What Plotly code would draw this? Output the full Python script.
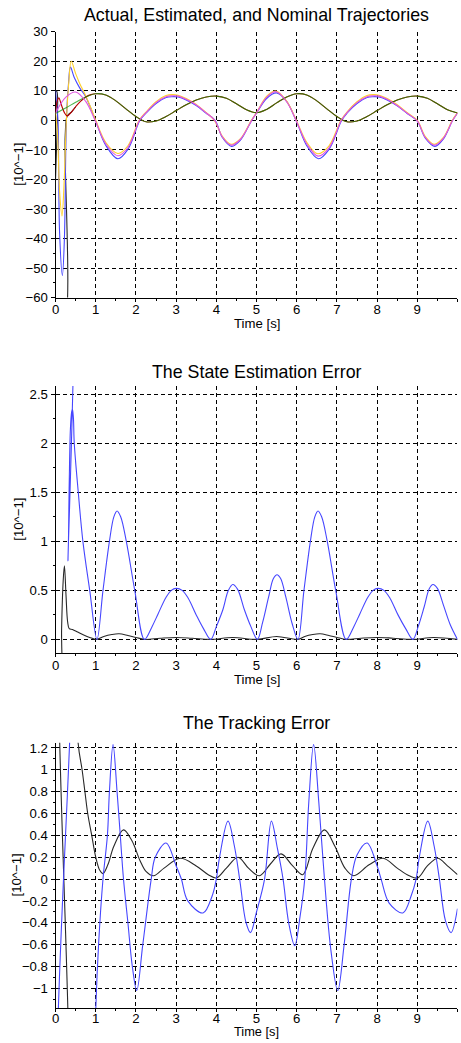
import plotly.graph_objects as go

W, H = 461, 1043

# Page-to-picture mapping measured from earlier renders (the page is slightly shrunk and
# offset when photographed); positions below are picture pixels converted back to paper.
SX, BX = 0.992, 2.9
SY, BY = 0.985, 6.3

def px(x):
    return ((x - BX) / SX) / W

def py(y):
    return 1 - ((y - BY) / SY) / H

# ---------------- Chart 1: Actual, Estimated, and Nominal Trajectories ----------------
t_nom1 = [0, 0.25, 0.5, 0.75, 1.0, 1.25, 1.55, 1.8, 2.09, 2.25, 2.5, 2.75, 2.9, 3.05, 3.25, 3.5, 3.75, 3.96,
          4.15, 4.37, 4.6, 4.88, 5.0, 5.25, 5.49, 5.75, 6.0, 6.25, 6.53, 6.8, 7.11, 7.25, 7.5, 7.75, 7.9, 8.05,
          8.25, 8.5, 8.75, 9.0, 9.2, 9.43, 9.65, 9.88, 10.0]
nom1 = [2.5, 7.8, 9.6, 6.4, -0.5, -8.0, -12.0, -9.2, 0.0, 2.6, 6.0, 8.0, 8.3, 8.2, 7.1, 5.2, 2.5, 0.0,
        -5.6, -8.4, -6.4, 0.0, 2.5, 7.8, 9.7, 6.3, -0.5, -8.0, -12.1, -9.4, 0.0, 2.6, 6.0, 8.0, 8.3, 8.2,
        7.1, 5.0, 2.4, -0.2, -5.8, -8.4, -6.0, 0.0, 2.5]

t_act1 = [0, 0.03, 0.06, 0.1, 0.17, 0.22, 0.27, 0.32, 0.37, 0.465, 0.6, 0.75, 0.9, 1.0, 1.25, 1.55, 1.8, 2.1,
          2.25, 2.5, 2.75, 2.9, 3.05, 3.25, 3.5, 3.75, 3.97, 4.15, 4.38, 4.6, 4.88, 5.0, 5.25, 5.5, 5.75, 6.0,
          6.25, 6.54, 6.8, 7.12, 7.25, 7.5, 7.75, 7.9, 8.05, 8.25, 8.5, 8.75, 9.0, 9.2, 9.44, 9.65, 9.88, 10.0]
act1 = [10.0, 5.0, 0.0, -38.0, -52.5, -40.0, 0.0, 12.0, 18.0, 14.5, 11.0, 8.0, 3.3, -0.3, -8.5, -13.0, -9.8, 0.0,
        2.4, 5.7, 7.7, 8.0, 7.9, 6.9, 5.0, 2.4, 0.0, -5.8, -8.8, -6.7, 0.0, 2.4, 7.4, 9.3, 6.4, -0.6,
        -8.6, -13.0, -9.9, 0.0, 2.4, 5.7, 7.7, 8.0, 7.9, 6.9, 4.9, 2.3, -0.3, -6.0, -8.8, -6.3, 0.0, 2.4]

t_est1 = [0, 0.05, 0.1, 0.16, 0.21, 0.27, 0.33, 0.39, 0.5, 0.6, 0.75, 0.9, 1.0, 1.25, 1.55, 1.8, 2.08, 2.25,
          2.5, 2.75, 2.9, 3.05, 3.25, 3.5, 3.75, 3.95, 4.15, 4.36, 4.6, 4.87, 5.0, 5.25, 5.48, 5.75, 6.0, 6.25,
          6.52, 6.8, 7.1, 7.25, 7.5, 7.75, 7.9, 8.05, 8.25, 8.5, 8.75, 9.0, 9.2, 9.42, 9.65, 9.87, 10.0]
est1 = [2.5, -5.0, -24.0, -32.4, -22.0, 0.0, 13.0, 20.0, 15.8, 12.5, 8.3, 3.5, 0.0, -7.5, -11.2, -8.6, 0.0, 2.8,
        6.3, 8.4, 8.7, 8.5, 7.4, 5.4, 2.6, 0.0, -5.4, -8.1, -6.2, 0.0, 2.6, 8.1, 9.9, 6.5, -0.3, -7.4,
        -11.3, -8.7, 0.0, 2.8, 6.3, 8.4, 8.7, 8.5, 7.4, 5.3, 2.6, 0.0, -5.5, -8.1, -5.8, 0.0, 2.6]

t_nom2 = [0, 0.25, 0.5, 0.75, 1.0, 1.25, 1.5, 1.75, 2.0, 2.25, 2.5, 2.75, 3.0, 3.25, 3.5, 3.75, 4.0, 4.25, 4.5,
          4.75, 5.0, 5.25, 5.5, 5.75, 6.0, 6.25, 6.5, 6.75, 7.0, 7.25, 7.5, 7.75, 8.0, 8.25, 8.5, 8.75, 9.0,
          9.25, 9.5, 9.75, 10.0]
nom2 = [2.4, 4.2, 6.1, 7.9, 9.0, 8.6, 6.6, 3.9, 1.3, -0.5, -0.2, 1.3, 3.3, 5.3, 6.9, 7.9, 8.2, 7.5, 5.6,
        3.6, 2.6, 3.7, 5.9, 7.9, 9.0, 8.6, 6.6, 3.9, 1.3, -0.5, -0.2, 1.3, 3.3, 5.3, 6.9, 7.9, 8.2,
        7.5, 5.6, 3.6, 2.5]

t_act2 = [0, 0.04, 0.08, 0.15, 0.22, 0.29, 0.4, 0.5, 0.62, 0.75, 0.88, 1.0, 1.25, 1.5, 1.75, 2.0, 2.25, 2.5,
          2.75, 3.0, 3.25, 3.5, 3.75, 4.0, 4.25, 4.5, 4.75, 5.0, 5.25, 5.5, 5.75, 6.0, 6.25, 6.5, 6.75, 7.0,
          7.25, 7.5, 7.75, 8.0, 8.25, 8.5, 8.75, 9.0, 9.25, 9.5, 9.75, 10.0]
act2 = [2.5, 6.5, 7.6, 5.0, 2.6, 1.5, 2.9, 4.6, 6.4, 7.9, 8.7, 9.0, 8.6, 6.6, 3.9, 1.3, -0.5, -0.2,
        1.3, 3.3, 5.3, 6.9, 7.9, 8.2, 7.5, 5.6, 3.6, 2.6, 3.7, 5.9, 7.9, 9.0, 8.6, 6.6, 3.9, 1.3,
        -0.5, -0.2, 1.3, 3.3, 5.3, 6.9, 7.9, 8.2, 7.5, 5.6, 3.6, 2.5]

t_est2 = [0, 0.03, 0.05, 0.06, 0.2, 0.24, 0.29, 0.4, 0.5]
est2 = [10.0, 9.8, 8.0, -70.0, -70.0, -5.0, 1.5, 2.9, 4.6]

# ---------------- Chart 2: The State Estimation Error ----------------
t_err1 = [0, 0.01, 0.26, 0.31, 0.34, 0.37, 0.4, 0.42, 0.445, 0.465, 0.565, 0.68, 0.85, 1.03, 1.18, 1.34, 1.45,
          1.53, 1.62, 1.76, 1.97, 2.21, 2.4, 2.55, 2.75, 2.88, 3.0, 3.15, 3.3, 3.5, 3.68, 3.86, 4.0, 4.16, 4.3,
          4.41, 4.53, 4.7, 4.86, 5.02, 5.15, 5.3, 5.42, 5.51, 5.6, 5.73, 5.88, 6.03, 6.18, 6.34, 6.45, 6.53,
          6.62, 6.76, 6.97, 7.23, 7.42, 7.57, 7.77, 7.9, 8.02, 8.17, 8.32, 8.52, 8.71, 8.89, 9.03, 9.17, 9.3,
          9.39, 9.5, 9.65, 9.82, 10.0]
err1 = [-1.0, 6.0, 6.0, 0.8, 1.6, 2.15, 2.32, 2.35, 2.25, 2.0, 1.5, 1.0, 0.5, 0.0, 0.5, 1.0, 1.25,
        1.31, 1.25, 1.0, 0.5, 0.0, 0.13, 0.26, 0.43, 0.5, 0.52, 0.5, 0.42, 0.25, 0.11, 0.0, 0.13, 0.3, 0.5,
        0.56, 0.51, 0.3, 0.13, 0.0, 0.17, 0.43, 0.62, 0.66, 0.62, 0.43, 0.17, 0.0, 0.5, 1.0, 1.25, 1.31,
        1.25, 1.0, 0.5, 0.0, 0.13, 0.26, 0.43, 0.5, 0.52, 0.5, 0.42, 0.25, 0.11, 0.0, 0.14, 0.33, 0.52,
        0.56, 0.52, 0.35, 0.15, 0.0]

t_err2 = [0, 0.12, 0.15, 0.19, 0.22, 0.26, 0.3, 0.34, 0.42, 0.55, 0.7, 0.85, 1.02, 1.2, 1.4, 1.58, 1.8, 2.0,
          2.21, 2.6, 3.0, 3.4, 3.86, 4.4, 5.02, 5.5, 6.03, 6.2, 6.4, 6.58, 6.8, 7.0, 7.23, 7.6, 8.0, 8.4, 8.89,
          9.4, 10.0]
err2 = [-1.0, -1.0, 0.1, 0.6, 0.75, 0.45, 0.18, 0.11, 0.10, 0.075, 0.045, 0.02, 0.0, 0.03, 0.05, 0.057, 0.04, 0.02,
        0.0, 0.012, 0.02, 0.012, 0.0, 0.02, 0.0, 0.03, 0.0, 0.03, 0.05, 0.057, 0.04, 0.02, 0.0, 0.012, 0.02, 0.012, 0.0,
        0.02, 0.0]

# ---------------- Chart 3: The Tracking Error ----------------
t_trk1 = [0, 0.01, 0.28, 0.31, 0.9, 1.0, 1.07, 1.18, 1.29, 1.34, 1.43, 1.53, 1.61, 1.69, 1.8, 1.91, 2.02, 2.17,
          2.38, 2.48, 2.75, 3.0, 3.13, 3.29, 3.67, 3.9, 4.0, 4.08, 4.29, 4.45, 4.58, 4.74, 4.85, 5.0, 5.2,
          5.37, 5.52, 5.66, 5.8, 5.95, 6.08, 6.2, 6.3, 6.42, 6.55, 6.69, 6.85, 7.02, 7.18, 7.36, 7.5, 7.75,
          8.0, 8.1, 8.3, 8.64, 8.85, 8.97, 9.05, 9.26, 9.42, 9.55, 9.7, 9.84, 10.0]
trk1 = [-2.0, 3.0, 3.0, -3.0, -3.0, -1.2, -0.6, 0.0, 0.4, 0.8, 1.23, 0.8, 0.4, 0.0, -0.4, -0.8, -1.02, -0.6,
        0.0, 0.2, 0.33, 0.12, 0.0, -0.2, -0.31, -0.15, 0.0, 0.2, 0.53, 0.3, 0.0, -0.4, -0.49, -0.3, 0.0,
        0.53, 0.28, 0.0, -0.4, -0.61, -0.35, 0.0, 0.7, 1.23, 0.7, 0.0, -0.65, -1.02, -0.6, 0.0, 0.22, 0.33,
        0.12, 0.0, -0.22, -0.31, -0.15, 0.0, 0.2, 0.53, 0.3, 0.0, -0.38, -0.49, -0.27]

t_trk2 = [0, 0.2, 0.23, 0.45, 0.56, 0.66, 0.73, 0.8, 0.9, 1.0, 1.1, 1.18, 1.3, 1.45, 1.69, 1.9, 2.1, 2.25, 2.44,
          2.7, 3.1, 3.5, 3.8, 4.0, 4.25, 4.54, 4.8, 5.07, 5.35, 5.61, 5.9, 6.15, 6.4, 6.69, 6.95, 7.2, 7.42,
          7.8, 8.15, 8.5, 8.8, 9.01, 9.25, 9.51, 9.75, 10.0]
trk2 = [-3.0, -3.0, 3.0, 3.0, 1.25, 1.0, 0.8, 0.6, 0.4, 0.2, 0.08, 0.05, 0.13, 0.3, 0.45, 0.35, 0.17, 0.07, 0.03,
        0.1, 0.19, 0.12, 0.04, 0.01, 0.1, 0.2, 0.1, 0.03, 0.14, 0.23, 0.12, 0.04, 0.28, 0.45, 0.3, 0.1, 0.03,
        0.13, 0.19, 0.1, 0.03, 0.01, 0.12, 0.19, 0.12, 0.04]

# ---------------- Layout (picture-pixel positions) ----------------
X0, X1 = 54.5, 456.7
panels = [  # (top px, bottom px, yrange, dtick)
    (31.0, 296.7, [-60, 30], 10),
    (385.0, 652.3, [-0.143, 2.585], 0.5),
    (741.7, 1006.7, [-1.18, 1.246], 0.2),
]
titles = ["Actual, Estimated, and Nominal Trajectories", "The State Estimation Error", "The Tracking Error"]
title_y = [14, 371.5, 722]
xlab_dy = [26.0, 26.0, 23.0]
xlab_size = [13.2, 13.2, 12.8]
xtick_standoff = [-3, -3, -5]
ylab_x = [18, 18, 15]

FONT = "Liberation Sans, Arial, Helvetica, sans-serif"
TICK_SIZE = 13.2
TITLE_SIZE = 17.8
BLUE = "rgb(70,70,255)"
YELLOW = "rgb(255,208,40)"
MAGENTA = "rgb(225,85,225)"
RED = "rgb(185,0,0)"
GREEN = "rgba(0,150,0,0.7)"
BLACK = "rgb(40,40,40)"

fig = go.Figure()

def add(x, y, color, ax, width=1.1):
    fig.add_trace(go.Scatter(x=x, y=y, mode="lines", xaxis="x" + ax, yaxis="y" + ax,
                             line=dict(color=color, width=width, shape="spline", smoothing=1.0),
                             hoverinfo="skip", showlegend=False))

# chart 1
add(t_est2, est2, BLACK, "")
add(t_act1, act1, BLUE, "")
add(t_est1, est1, YELLOW, "")
add(t_act2, act2, RED, "")
add(t_nom2, nom2, GREEN, "")
add(t_nom1, nom1, MAGENTA, "")
# chart 2
add(t_err2, err2, BLACK, "2")
add(t_err1, err1, BLUE, "2")
# chart 3
add(t_trk2, trk2, BLACK, "3")
add(t_trk1, trk1, BLUE, "3")

layout = dict(width=W, height=H, margin=dict(l=0, r=0, t=0, b=0), autosize=False,
              plot_bgcolor="white", paper_bgcolor="white", showlegend=False,
              font=dict(family=FONT, size=TICK_SIZE, color="black"))
annotations = []
for i, (top, bot, yr, dt) in enumerate(panels):
    sfx = "" if i == 0 else str(i + 1)
    xa = dict(domain=[px(X0), px(X1)], range=[0, 10], dtick=1, tick0=0,
              showgrid=True, gridcolor="black", gridwidth=1, griddash="4px,3px",
              zeroline=False, showline=True, linecolor="black", linewidth=1, layer="below traces",
              ticks="outside", ticklen=3, tickcolor="black", tickwidth=1,
              ticklabelstandoff=xtick_standoff[i],
              minor=dict(dtick=0.5, ticks="outside", ticklen=2, tickcolor="black", showgrid=False),
              tickfont=dict(family=FONT, size=TICK_SIZE, color="black"),
              anchor="y" + sfx, fixedrange=True)
    ya = dict(domain=[py(bot), py(top)], range=yr, dtick=dt, tick0=0,
              showgrid=True, gridcolor="black", gridwidth=1, griddash="4px,3px",
              zeroline=False, showline=True, linecolor="black", linewidth=1, layer="below traces",
              ticks="outside", ticklen=4, tickcolor="black", tickwidth=1,
              minor=dict(dtick=dt / 2, ticks="outside", ticklen=2, tickcolor="black", showgrid=False),
              tickfont=dict(family=FONT, size=TICK_SIZE, color="black"),
              anchor="x" + sfx, fixedrange=True)
    layout["xaxis" + sfx] = xa
    layout["yaxis" + sfx] = ya
    annotations.append(dict(text=titles[i], x=px((X0 + X1) / 2), y=py(title_y[i]),
                            xref="paper", yref="paper", xanchor="center", yanchor="middle",
                            showarrow=False, font=dict(family=FONT, size=TITLE_SIZE, color="black")))
    annotations.append(dict(text="Time [s]", x=px((X0 + X1) / 2), y=py(bot + xlab_dy[i]),
                            xref="paper", yref="paper", xanchor="center", yanchor="middle",
                            showarrow=False, font=dict(family=FONT, size=xlab_size[i], color="black")))
    annotations.append(dict(text="[10^\u22121]", x=px(ylab_x[i]), y=py((top + bot) / 2),
                            xref="paper", yref="paper", xanchor="center", yanchor="middle",
                            textangle=-90, showarrow=False,
                            font=dict(family=FONT, size=TICK_SIZE, color="black")))
layout["annotations"] = annotations
fig.update_layout(**layout)
fig.write_html("out.html")
